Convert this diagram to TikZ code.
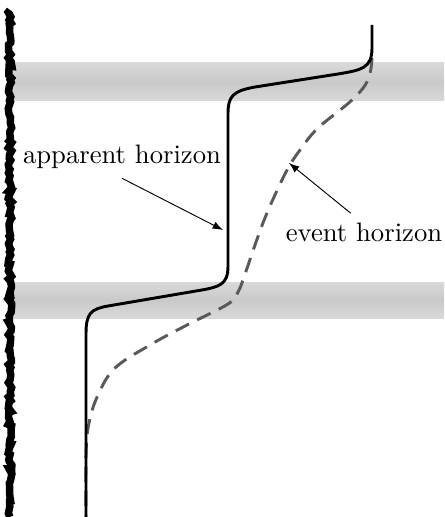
\documentclass[tikz,border=0pt]{standalone}
\usetikzlibrary{decorations.pathmorphing}
\tikzset{
  band/.style={top color=gray!30, bottom color=gray!30, middle color=gray!42},
  horizon/.style={line width=1.1pt},
  eventline/.style={line width=1.1pt, gray!70!black, dash pattern=on 5.6pt off 3.4pt},
  pointer/.style={->, >=latex, line width=0.35pt},
}
\begin{document}
\begin{tikzpicture}[x=0.375pt, y=-0.375pt]
  \useasboundingbox (0,0) rectangle (444,517);

  % trapped surface bands
  \shade[band] (12,63) rectangle (444,101);
  \shade[band] (12,282) rectangle (444,318);

  % singularity
  \draw[line width=2.8pt, decorate,
        decoration={random steps, segment length=1.2pt, amplitude=0.7pt}]
    (10,10) -- (10,517);

  % event horizon
  \draw[eventline] plot[smooth, tension=0.6] coordinates {
    (372,58) (368,80) (352,100) (318,128) (300,150) (286,172) (267,213)
    (255,245) (244,277) (238,292) (228,304) (187,325) (150,345) (115,368)
    (98,395) (89,423) (86,455) (86,517)};

  % apparent horizon
  \draw[horizon] (372,25) -- (372,48) .. controls (372,68) and (362,70) .. (338,74)
    -- (255,87) .. controls (233,91) and (228,96) .. (228,114)
    -- (228,266) .. controls (228,285) and (220,287) .. (196,291)
    -- (108,306) .. controls (91,309) and (86,313) .. (86,334) -- (86,517);

  \node (apparent) at (122,157) {apparent horizon};
  \node (event) at (364,232) {event horizon};
  \coordinate (ah) at (223,230);
  \coordinate (eh) at (289,163);

  \draw[pointer] (apparent.south) -- (ah);
  \draw[pointer] ([xshift=-5pt]event.north) -- (eh);
\end{tikzpicture}
\end{document}
